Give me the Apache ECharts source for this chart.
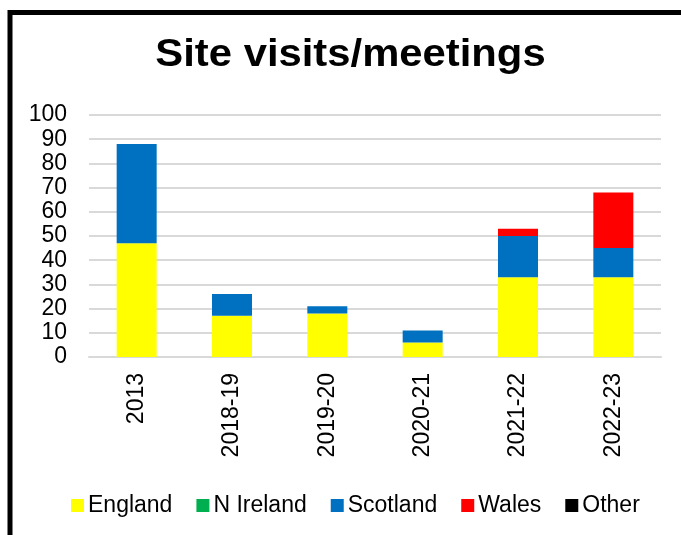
<!DOCTYPE html>
<html>
<head>
<meta charset="utf-8">
<script src="https://cdn.jsdelivr.net/npm/echarts@6/dist/echarts.min.js"></script>
<style>
html,body{margin:0;padding:0;background:#fff;}
#chart{width:681px;height:535px;}
</style>
</head>
<body>
<div id="chart"></div>
<script>
const categories = ['2013', '2018-19', '2019-20', '2020-21', '2021-22', '2022-23'];
const england  = [47, 17, 18, 6, 33, 33];
const nIreland = [0, 0, 0, 0, 0, 0];
const scotland = [41, 9, 3, 5, 17, 12];
const wales    = [0, 0, 0, 0, 3, 23];
const other    = [0, 0, 0, 0, 0, 0];
const yTicks = { min: 0, max: 100, interval: 10 };

const font = '"Liberation Sans", Arial, sans-serif';
const chart = echarts.init(document.getElementById('chart'));

function bar(name, data, color) {
  return {
    name: name, type: 'bar', stack: 'total', data: data,
    barWidth: 40, itemStyle: { color: color },
    emphasis: { disabled: true }
  };
}

chart.setOption({
  animation: false,
  backgroundColor: '#ffffff',
  graphic: [
    {
      type: 'rect', silent: true,
      shape: { x: 10, y: 12.5, width: 720, height: 620 },
      style: { fill: 'none', stroke: '#000000', lineWidth: 5 }
    },
    {
      type: 'text', silent: true,
      x: 350.5, y: 56, scaleX: 1.1, scaleY: 1,
      style: {
        text: 'Site visits/meetings',
        font: 'bold 38px ' + font,
        fill: '#000000',
        textAlign: 'center',
        textVerticalAlign: 'middle'
      }
    }
  ],
  grid: { left: 89, right: 20, top: 115, bottom: 178, containLabel: false },
  legend: {
    top: 489, left: 66,
    itemWidth: 13, itemHeight: 13, itemGap: 24,
    icon: 'rect',
    textStyle: { fontFamily: font, fontSize: 23, color: '#000000', padding: [0, 0, 0, -1] },
    data: ['England', 'N Ireland', 'Scotland', 'Wales', 'Other']
  },
  xAxis: {
    type: 'category',
    data: categories,
    axisLine: { show: true, lineStyle: { color: '#d9d9d9', width: 2 } },
    axisTick: { show: false },
    axisLabel: { rotate: 90, margin: 16, fontFamily: font, fontSize: 23, color: '#000000' }
  },
  yAxis: {
    type: 'value',
    min: yTicks.min, max: yTicks.max, interval: yTicks.interval,
    axisLine: { show: false },
    axisTick: { show: false },
    splitLine: { lineStyle: { color: '#d9d9d9', width: 2 } },
    axisLabel: { margin: 22, fontFamily: font, fontSize: 23, color: '#000000' }
  },
  series: [
    bar('England', england, '#FFFF00'),
    bar('N Ireland', nIreland, '#00B050'),
    bar('Scotland', scotland, '#0070C0'),
    bar('Wales', wales, '#FF0000'),
    bar('Other', other, '#000000')
  ]
});
</script>
</body>
</html>
